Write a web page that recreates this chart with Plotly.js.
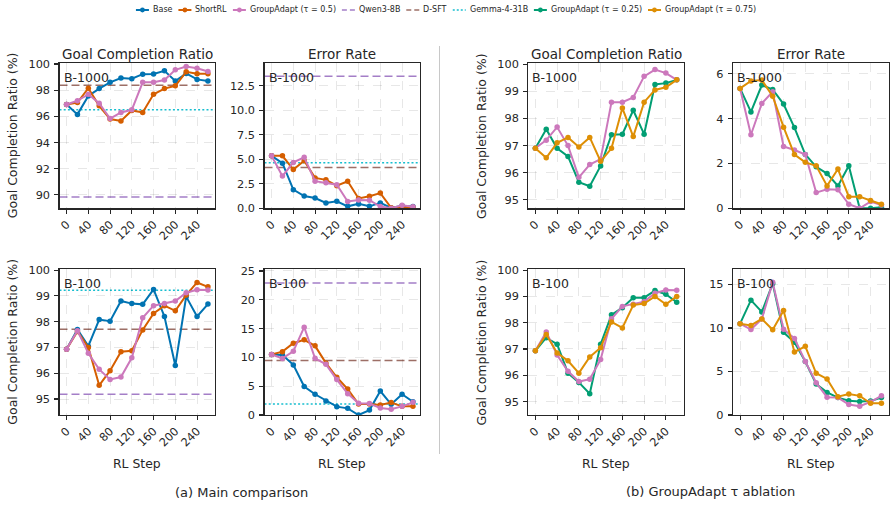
<!DOCTYPE html>
<html>
<head>
<meta charset="utf-8">
<script src="https://cdn.plot.ly/plotly-3.0.1.min.js"></script>
<style>html,body{margin:0;padding:0;background:#fff;}</style>
</head>
<body>
<div id="chart" style="width:896px;height:506px;"></div>
<script>
// ---------- data ----------
const steps = [0, 20, 40, 60, 80, 100, 120, 140, 160, 180, 200, 220, 240, 260];
const stepTicks = [0, 40, 80, 120, 160, 200, 240];
const budgets = ['B-1000', 'B-100'];

// Goal completion ratio (%), budget B-1000
const gcr1000Base  = [96.9, 96.15, 97.55, 98.12, 98.6, 98.92, 98.87, 99.22, 99.24, 99.48, 98.7, 99.28, 98.82, 98.7];
const gcr1000Short = [96.9, 97.05, 98.15, 96.8, 95.8, 95.65, 96.45, 96.3, 97.68, 98.12, 98.33, 99.4, 99.26, 99.25];
const gcr1000GA50  = [96.9, 97.2, 97.68, 97.0, 95.83, 96.3, 96.5, 98.6, 98.6, 98.77, 99.55, 99.8, 99.67, 99.42];
const gcr1000GA25  = [96.9, 97.6, 96.9, 96.6, 95.65, 95.5, 96.25, 97.4, 97.42, 98.3, 97.42, 99.25, 99.3, 99.42];
const gcr1000GA75  = [96.9, 96.55, 97.1, 97.3, 96.95, 97.3, 96.42, 96.9, 98.38, 97.33, 98.6, 99.05, 99.15, 99.42];

// Error rate (%), budget B-1000
const er1000Base  = [5.35, 4.6, 1.9, 1.25, 1.05, 0.55, 0.72, 0.2, 0.45, 0.2, 0.55, 0.03, 0.25, 0.18];
const er1000Short = [5.35, 5.35, 3.95, 4.85, 3.1, 2.9, 2.3, 2.75, 1.0, 1.22, 1.55, 0.05, 0.05, 0.1];
const er1000GA50  = [5.35, 3.28, 4.68, 5.2, 2.76, 2.6, 2.4, 0.7, 0.85, 0.83, 0.18, 0.0, 0.3, 0.15];
const er1000GA25  = [5.35, 4.3, 5.5, 5.3, 4.65, 3.6, 2.4, 1.85, 1.55, 1.0, 1.9, 0.0, 0.0, 0.05];
const er1000GA75  = [5.35, 5.68, 5.72, 5.0, 3.62, 2.4, 2.05, 1.9, 1.0, 1.75, 0.52, 0.52, 0.35, 0.18];

// Goal completion ratio (%), budget B-100
const gcr100Base  = [96.93, 97.7, 97.05, 98.08, 98.02, 98.8, 98.7, 98.67, 99.25, 98.2, 96.3, 98.97, 98.2, 98.68];
const gcr100Short = [96.93, 97.62, 97.0, 95.53, 96.1, 96.83, 96.87, 97.68, 98.32, 98.62, 98.42, 99.03, 99.52, 99.35];
const gcr100GA50  = [96.93, 97.65, 96.77, 96.15, 95.76, 95.85, 96.6, 98.15, 98.62, 98.7, 98.8, 99.12, 99.24, 99.23];
const gcr100GA25  = [96.93, 97.43, 97.18, 96.08, 95.73, 95.3, 97.18, 98.3, 98.57, 98.95, 98.95, 99.22, 99.08, 98.78];
const gcr100GA75  = [96.93, 97.55, 96.85, 96.55, 96.08, 96.7, 97.05, 98.03, 97.8, 98.67, 98.73, 99.0, 98.7, 99.0];

// Error rate (%), budget B-100
const er100Base  = [10.5, 10.4, 8.7, 4.95, 3.6, 2.45, 1.45, 1.15, 0.0, 0.85, 4.15, 1.85, 3.6, 2.3];
const er100Short = [10.5, 11.0, 12.45, 13.05, 12.0, 9.0, 6.55, 4.5, 1.9, 1.9, 1.75, 2.15, 1.5, 1.5];
const er100GA50  = [10.5, 9.82, 11.05, 15.25, 9.85, 8.8, 6.15, 3.7, 2.05, 2.0, 1.2, 1.0, 1.5, 2.2];
const er100GA25  = [10.5, 13.2, 11.85, 15.1, 9.5, 8.35, 6.15, 3.55, 2.6, 2.0, 1.65, 1.55, 1.6, 2.0];
const er100GA75  = [10.5, 10.3, 11.05, 9.8, 12.0, 7.25, 7.9, 4.8, 4.15, 2.1, 2.4, 2.2, 1.35, 1.35];

// Reference models, one value per budget [B-1000, B-100]
const qwenGcr  = [89.85, 95.18];
const dsftGcr  = [98.38, 97.71];
const gemmaGcr = [96.5, 99.22];
const qwenEr   = [13.45, 22.9];
const dsftEr   = [4.15, 9.45];
const gemmaEr  = [4.65, 1.9];

// Tick labels
const gcrTicksWide = [90, 92, 94, 96, 98, 100];
const gcrTicksNarrow = [95, 96, 97, 98, 99, 100];
const erTicks1000Main = [0, 2.5, 5, 7.5, 10, 12.5];
const erTicks1000Abl = [0, 2, 4, 6];
const erTicks100Main = [0, 5, 10, 15, 20, 25];
const erTicks100Abl = [0, 5, 10, 15];

const legendNames = ['Base', 'ShortRL', 'GroupAdapt (τ = 0.5)', 'Qwen3-8B', 'D-SFT',
                     'Gemma-4-31B', 'GroupAdapt (τ = 0.25)', 'GroupAdapt (τ = 0.75)'];

// ---------- styles ----------
const FONT = "'DejaVu Sans', sans-serif";
const INK = '#262626';
const W = 896, H = 506;
const px = v => v / W;
const py = v => 1 - v / H;

const STY = {
  base:  {color: '#0173b2', kind: 'series'},
  short: {color: '#d55e00', kind: 'series'},
  ga50:  {color: '#cc78bc', kind: 'series'},
  qwen:  {color: 'rgba(148,103,189,0.85)', kind: 'ref', dash: '8px,4px'},
  dsft:  {color: 'rgba(140,86,75,0.85)', kind: 'ref', dash: '8px,4px'},
  gemma: {color: '#17becf', kind: 'ref', dash: '2px,2.2px'},
  ga25:  {color: '#029e73', kind: 'series'},
  ga75:  {color: '#de8f05', kind: 'series'}
};
const legendKeys = ['base', 'short', 'ga50', 'qwen', 'dsft', 'gemma', 'ga25', 'ga75'];

// pixel boxes of the subplot grid
const cols = [[59.5, 215], [264.5, 420], [528.3, 683.8], [733, 888.5]];
const rows = [[63.3, 208.3], [269.3, 415]];

const panels = [
  {r: 0, c: 0, range: [88.98, 100.05], ticks: gcrTicksWide, fmt: 'd', title: 'Goal Completion Ratio', ylab: true, tag: budgets[0],
   series: [[gcr1000Base, 'base'], [gcr1000Short, 'short'], [gcr1000GA50, 'ga50']],
   refs: [[qwenGcr[0], 'qwen'], [dsftGcr[0], 'dsft'], [gemmaGcr[0], 'gemma']]},
  {r: 0, c: 1, range: [0, 14.78], ticks: erTicks1000Main, fmt: '.1f', title: 'Error Rate', tag: budgets[0],
   series: [[er1000Base, 'base'], [er1000Short, 'short'], [er1000GA50, 'ga50']],
   refs: [[qwenEr[0], 'qwen'], [dsftEr[0], 'dsft'], [gemmaEr[0], 'gemma']]},
  {r: 0, c: 2, range: [94.69, 100.03], ticks: gcrTicksNarrow, fmt: 'd', title: 'Goal Completion Ratio', ylab: true, tag: budgets[0],
   series: [[gcr1000GA25, 'ga25'], [gcr1000GA50, 'ga50'], [gcr1000GA75, 'ga75']], refs: []},
  {r: 0, c: 3, range: [0, 6.47], ticks: erTicks1000Abl, fmt: 'd', title: 'Error Rate', tag: budgets[0],
   series: [[er1000GA25, 'ga25'], [er1000GA50, 'ga50'], [er1000GA75, 'ga75']], refs: []},
  {r: 1, c: 0, range: [94.38, 100.03], ticks: gcrTicksNarrow, fmt: 'd', ylab: true, tag: budgets[1], xlab: true,
   series: [[gcr100Base, 'base'], [gcr100Short, 'short'], [gcr100GA50, 'ga50']],
   refs: [[qwenGcr[1], 'qwen'], [dsftGcr[1], 'dsft'], [gemmaGcr[1], 'gemma']]},
  {r: 1, c: 1, range: [0, 25.29], ticks: erTicks100Main, fmt: 'd', tag: budgets[1], xlab: true,
   series: [[er100Base, 'base'], [er100Short, 'short'], [er100GA50, 'ga50']],
   refs: [[qwenEr[1], 'qwen'], [dsftEr[1], 'dsft'], [gemmaEr[1], 'gemma']]},
  {r: 1, c: 2, range: [94.49, 100.03], ticks: gcrTicksNarrow, fmt: 'd', ylab: true, tag: budgets[1], xlab: true,
   series: [[gcr100GA25, 'ga25'], [gcr100GA50, 'ga50'], [gcr100GA75, 'ga75']], refs: []},
  {r: 1, c: 3, range: [0, 16.75], ticks: erTicks100Abl, fmt: 'd', tag: budgets[1], xlab: true,
   series: [[er100GA25, 'ga25'], [er100GA50, 'ga50'], [er100GA75, 'ga75']], refs: []}
];

const traces = [];
const shapes = [];
const annotations = [];
const layout = {
  width: W, height: H, autosize: false,
  margin: {l: 0, r: 0, t: 0, b: 0},
  paper_bgcolor: '#fff', plot_bgcolor: '#fff',
  showlegend: false,
  font: {family: FONT, color: INK}
};

const tickFont = {family: FONT, size: 11.3, color: INK};
const axisCommon = {
  ticks: 'outside', ticklen: 4, tickwidth: 1.1, tickcolor: INK,
  ticklabelstandoff: 2,
  showline: true, linecolor: INK, linewidth: 1.2, mirror: true,
  showgrid: true, gridcolor: 'rgba(0,0,0,0.12)', gridwidth: 0.8, griddash: 'dash',
  zeroline: false, tickfont: tickFont, fixedrange: true
};

panels.forEach((p, i) => {
  const n = i + 1;
  const id = n === 1 ? '' : String(n);
  const [x0, x1] = cols[p.c];
  const [yt, yb] = rows[p.r];
  layout['xaxis' + id] = Object.assign({}, axisCommon, {
    domain: [px(x0), px(x1)], anchor: 'y' + id,
    range: [-13, 273], tickmode: 'array', tickvals: stepTicks,
    ticktext: stepTicks.map(String), tickangle: -45, ticklabelstandoff: 0
  });
  layout['yaxis' + id] = Object.assign({}, axisCommon, {
    domain: [py(yb), py(yt)], anchor: 'x' + id,
    range: p.range, tickmode: 'array', tickvals: p.ticks,
    ticktext: p.ticks.map(v => p.fmt === '.1f' ? v.toFixed(1) : String(v))
  });

  // horizontal reference lines for the baseline models
  p.refs.forEach(([v, key]) => {
    shapes.push({
      type: 'line', layer: 'below',
      xref: 'x' + id + ' domain', x0: 0, x1: 1,
      yref: 'y' + id, y0: v, y1: v,
      line: {color: STY[key].color, width: 1.5, dash: STY[key].dash}
    });
  });

  // training curves
  p.series.forEach(([vals, key]) => {
    traces.push({
      type: 'scatter', mode: 'lines+markers',
      x: steps, y: vals,
      xaxis: 'x' + id, yaxis: 'y' + id,
      line: {color: STY[key].color, width: 2},
      marker: {color: STY[key].color, size: 5.5},
      hoverinfo: 'skip'
    });
  });

  // budget tag in the top-left corner
  annotations.push({
    xref: 'x' + id + ' domain', yref: 'y' + id + ' domain',
    x: 0.02, y: 0.905, xanchor: 'left', yanchor: 'middle',
    text: p.tag, showarrow: false, borderpad: 0,
    font: {family: FONT, size: 12.5, color: INK}
  });

  if (p.title) {
    annotations.push({
      xref: 'x' + id + ' domain', yref: 'y' + id + ' domain',
      x: 0.5, y: 1, xanchor: 'center', yanchor: 'bottom', yshift: 0,
      text: p.title, showarrow: false, borderpad: 0,
      font: {family: FONT, size: 13.5, color: INK}
    });
  }
  if (p.ylab) {
    annotations.push({
      xref: 'paper', yref: 'y' + id + ' domain',
      x: px(x0 - 47), y: 0.5, xanchor: 'center', yanchor: 'middle',
      textangle: -90, text: 'Goal Completion Ratio (%)', showarrow: false,
      font: {family: FONT, size: 12.5, color: INK}
    });
  }
  if (p.xlab) {
    annotations.push({
      xref: 'x' + id + ' domain', yref: 'paper',
      x: 0.5, y: py(463), xanchor: 'center', yanchor: 'middle',
      text: 'RL Step', showarrow: false,
      font: {family: FONT, size: 12.4, color: INK}
    });
  }
});

// group captions and the divider between the two groups
annotations.push({
  xref: 'paper', yref: 'paper', x: px(241), y: py(492),
  xanchor: 'center', yanchor: 'middle', text: '(a) Main comparison', showarrow: false,
  font: {family: FONT, size: 13, color: INK}
});
annotations.push({
  xref: 'paper', yref: 'paper', x: px(710), y: py(491),
  xanchor: 'center', yanchor: 'middle', text: '(b) GroupAdapt τ ablation', showarrow: false,
  font: {family: FONT, size: 13, color: INK}
});
shapes.push({
  type: 'line', xref: 'paper', yref: 'paper',
  x0: px(439.5), x1: px(439.5), y0: py(46), y1: py(454),
  line: {color: '#c8c8c8', width: 1}
});

// legend row across the top
(function buildLegend() {
  const LEG_FONT = 8;
  const ctx = document.createElement('canvas').getContext('2d');
  ctx.font = LEG_FONT + "px 'DejaVu Sans'";
  const handle = 13, gapText = 3, gapItem = 7;
  const widths = legendNames.map(t => ctx.measureText(t).width);
  const total = widths.reduce((a, w) => a + handle + gapText + w, 0) + gapItem * (legendNames.length - 1);
  let x = 445.5 - total / 2;
  const yc = 10;
  legendNames.forEach((name, k) => {
    const s = STY[legendKeys[k]];
    shapes.push({
      type: 'line', xref: 'paper', yref: 'paper',
      x0: px(x), x1: px(x + handle), y0: py(yc), y1: py(yc),
      line: {color: s.color, width: s.kind === 'ref' ? 1.5 : 2, dash: s.kind === 'ref' ? (legendKeys[k] === 'gemma' ? '2px,2px' : '5px,3px') : 'solid'}
    });
    if (s.kind === 'series') {
      const cx = x + handle / 2, r = 2.4;
      shapes.push({
        type: 'circle', xref: 'paper', yref: 'paper',
        x0: px(cx - r), x1: px(cx + r), y0: py(yc + r), y1: py(yc - r),
        fillcolor: s.color, line: {width: 0}
      });
    }
    annotations.push({
      xref: 'paper', yref: 'paper', x: px(x + handle + gapText), y: py(yc),
      xanchor: 'left', yanchor: 'middle', text: name, showarrow: false, borderpad: 0,
      font: {family: FONT, size: LEG_FONT, color: INK}
    });
    x += handle + gapText + widths[k] + gapItem;
  });
})();

layout.shapes = shapes;
layout.annotations = annotations;

Plotly.newPlot('chart', traces, layout, {displayModeBar: false, staticPlot: true});
</script>
</body>
</html>
